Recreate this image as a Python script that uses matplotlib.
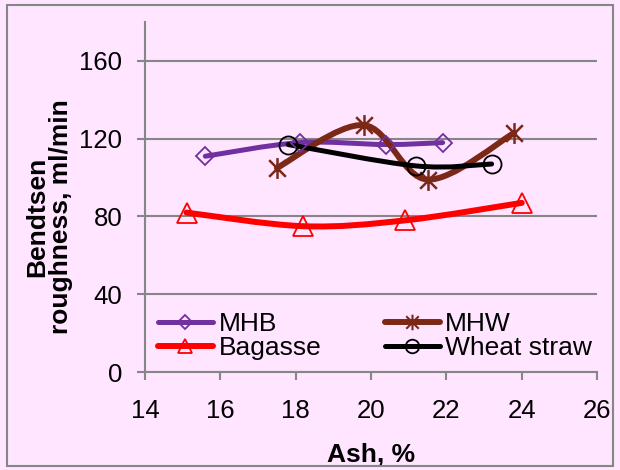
import numpy as np
import matplotlib
matplotlib.use("Agg")
import matplotlib.pyplot as plt
from matplotlib.path import Path
from matplotlib.patches import PathPatch, Rectangle
from matplotlib.lines import Line2D

plt.rcParams['font.family'] = ['Liberation Sans', 'DejaVu Sans']

#%% Data
mhb_x = [15.6, 18.1, 20.4, 21.9]
mhb_y = [111, 118, 117, 118]

mhw_x = [17.5, 19.8, 21.5, 23.8]
mhw_y = [105, 127, 99, 123]

bag_x = [15.1, 18.2, 20.9, 24.0]
bag_y = [82, 75, 78, 87]

wheat_x = [17.8, 21.2, 23.2]
wheat_y = [117, 106, 107]

x_ticks = [14, 16, 18, 20, 22, 24, 26]
y_ticks = [0, 40, 80, 120, 160]

bg = '#FFE5FF'
grey = '#868686'

# star marker like Excel's (vertical bar + x)
star = Path([(0, -1), (0, 1), (-0.8, -0.8), (0.8, 0.8), (-0.8, 0.8), (0.8, -0.8)],
            [Path.MOVETO, Path.LINETO] * 3)


def smooth_path(xs, ys):
    # Excel-style smoothed line: Catmull-Rom drawn as cubic Bezier segments
    p = np.column_stack([xs, ys]).astype(float)
    verts = [p[0]]
    codes = [Path.MOVETO]
    for i in range(len(p) - 1):
        p0 = p[i - 1] if i > 0 else p[i]
        p1, p2 = p[i], p[i + 1]
        p3 = p[i + 2] if i + 2 < len(p) else p[i + 1]
        verts += [p1 + (p2 - p0) / 6, p2 - (p3 - p1) / 6, p2]
        codes += [Path.CURVE4] * 3
    return Path(verts, codes)


fig = plt.figure(figsize=(6.2, 4.7), dpi=100, facecolor=bg)
ax = fig.add_axes([0.234, 0.2085, 0.729, 0.7445], facecolor=bg)

series = [
    (mhb_x, mhb_y, '#7030A0', 'D', 3.6, 9, 'MHB'),
    (bag_x, bag_y, '#FF0000', '^', 4.3, 14, 'Bagasse'),
    (mhw_x, mhw_y, '#7B2816', star, 4.3, 15, 'MHW'),
    (wheat_x, wheat_y, '#000000', 'o', 3.6, 13, 'Wheat straw'),
]

handles = []
for xs, ys, c, m, lw, ms, lab in series:
    ax.add_patch(PathPatch(smooth_path(xs, ys), fill=False, edgecolor=c, lw=lw,
                           capstyle='round', joinstyle='round', zorder=3))
    ax.plot(xs, ys, linestyle='none', marker=m, ms=ms, mfc='none', mec=c,
            mew=1.8 if m is star else 1.3, zorder=4)
    handles.append(Line2D([], [], color=c, lw=lw, marker=m, ms=ms * 0.75,
                          mfc='none', mec=c, mew=1.5 if m is star else 1.3,
                          solid_capstyle='round', label=lab))

ax.set_xlim(14, 26)
ax.set_ylim(0, 180)
ax.set_xticks(x_ticks)
ax.set_yticks(y_ticks)
ax.yaxis.grid(True, color=grey, lw=1.5)
ax.set_axisbelow(True)
for s in ['top', 'right']:
    ax.spines[s].set_visible(False)
for s in ['left', 'bottom']:
    ax.spines[s].set_color(grey)
    ax.spines[s].set_linewidth(1.5)
ax.tick_params(direction='out', length=5.5, width=1.5, color=grey, labelsize=18.5)
ax.tick_params(axis='x', pad=14)
ax.tick_params(axis='y', pad=11)

ax.set_xlabel('Ash, %', fontsize=19, fontweight='bold', labelpad=14)
ax.set_ylabel('Bendtsen\nroughness, ml/min', fontsize=19, fontweight='bold',
              linespacing=1.0)
ax.yaxis.set_label_coords(-0.16, 0.443)

ax.legend(handles=handles, ncol=2, loc='lower left', bbox_to_anchor=(0.028, 0.033),
          frameon=False, fontsize=19, handlelength=2.1, handletextpad=0.2,
          columnspacing=2.4, labelspacing=0.0, borderaxespad=0, borderpad=0)

fig.patches.append(Rectangle((0.011, 0.008), 0.977, 0.982, transform=fig.transFigure,
                             fill=False, edgecolor=grey, lw=1.5))

fig.savefig('out.png', dpi=100, facecolor=bg)
